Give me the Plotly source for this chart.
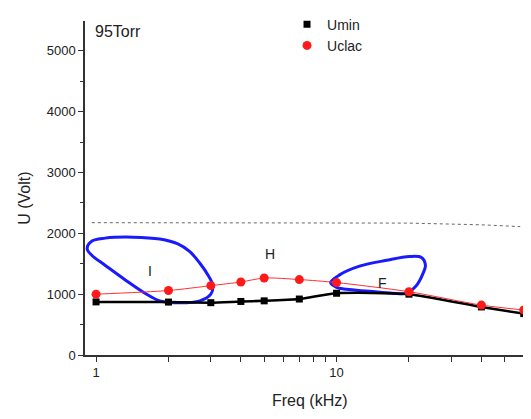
import math
import plotly.graph_objects as go

# Data
freq = [1, 2, 3, 4, 5, 7, 10, 20, 40, 60]
umin = [873, 870, 860, 880, 890, 920, 1015, 1000, 790, 680]
uclac = [1000, 1060, 1140, 1200, 1265, 1240, 1190, 1040, 820, 740]

# dotted reference line
ref_x = [0.96, 3, 10, 20, 40, 58]
ref_y = [2175, 2175, 2172, 2168, 2140, 2110]

# Blue loop "I"
loopI_x = [0.918, 0.962, 1.090, 1.424, 1.842, 2.189, 2.454, 2.702, 2.917, 3.059,
           3.000, 2.702, 2.230, 1.842, 1.597, 1.319, 1.090, 0.962, 0.918]
loopI_y = [1746, 1873, 1921, 1937, 1905, 1825, 1698, 1508, 1317, 1143,
           1000, 889, 857, 889, 1016, 1238, 1476, 1635, 1746]

# Blue loop "F"
loopF_x = [9.44, 10.29, 12.46, 16.12, 20.09, 22.53, 23.41, 22.74, 21.48, 19.52,
           17.08, 13.71, 11.00, 10.0, 9.44]
loopF_y = [1190, 1317, 1460, 1556, 1619, 1603, 1476, 1317, 1143, 1016,
           1016, 1048, 1079, 1111, 1190]

# region labels (freq, voltage)
labels = ["I", "H", "F"]
label_x = [1.67, 5.3, 15.5]
label_y = [1380, 1660, 1190]

x_tickvals = [1, 2, 3, 4, 5, 6, 7, 8, 9, 10, 20, 30, 40, 50, 60]
x_ticktext = ["1", "", "", "", "", "", "", "", "", "10", "", "", "", "", ""]
y_tickvals = [0, 1000, 2000, 3000, 4000, 5000]

FONT = "Arial, Liberation Sans, sans-serif"
TXT = "#222222"

fig = go.Figure()

fig.add_trace(go.Scatter(x=ref_x, y=ref_y, mode="lines",
                         line=dict(color="#666666", width=1, dash="dot"),
                         showlegend=False, hoverinfo="skip"))

fig.add_trace(go.Scatter(x=loopI_x, y=loopI_y, mode="lines",
                         line=dict(color="#1a1aff", width=3, shape="spline", smoothing=1.0),
                         showlegend=False))
fig.add_trace(go.Scatter(x=loopF_x, y=loopF_y, mode="lines",
                         line=dict(color="#1a1aff", width=3, shape="spline", smoothing=1.0),
                         showlegend=False))

fig.add_trace(go.Scatter(x=freq, y=umin, mode="lines+markers",
                         line=dict(color="black", width=2.5, shape="spline", smoothing=0.6),
                         marker=dict(symbol="square", size=7, color="black"),
                         cliponaxis=False, showlegend=False))
fig.add_trace(go.Scatter(x=freq, y=uclac, mode="lines+markers",
                         line=dict(color="#ff3030", width=1, shape="spline", smoothing=0.8),
                         marker=dict(symbol="circle", size=9, color="#ff1a1a"),
                         cliponaxis=False, showlegend=False))

# legend-only traces
fig.add_trace(go.Scatter(x=[None], y=[None], mode="markers", name="Umin",
                         marker=dict(symbol="square", size=7, color="black")))
fig.add_trace(go.Scatter(x=[None], y=[None], mode="markers", name="Uclac",
                         marker=dict(symbol="circle", size=9, color="#ff1a1a")))

fig.add_annotation(x=0.018, y=0.97, xref="paper", yref="paper", text="95Torr",
                   showarrow=False, xanchor="left", yanchor="middle",
                   font=dict(size=16, color=TXT, family=FONT))
for lbl, lx, ly in zip(labels, label_x, label_y):
    fig.add_annotation(x=math.log10(lx), y=ly, text=lbl, showarrow=False,
                       font=dict(size=14, color=TXT, family=FONT))

# axis titles
fig.add_annotation(x=-0.135, y=0.468, xref="paper", yref="paper", text="U (Volt)",
                   textangle=-90, showarrow=False, xanchor="center", yanchor="middle",
                   font=dict(size=16, color=TXT, family=FONT))
fig.add_annotation(x=0.507, y=-0.136, xref="paper", yref="paper", text="Freq (kHz)",
                   showarrow=False, xanchor="center", yanchor="middle",
                   font=dict(size=16, color=TXT, family=FONT))

# the page adds an 8 px body margin, so the figure is sized/margined to compensate
fig.update_layout(
    width=523, height=411,
    margin=dict(l=77, r=2, t=1, b=64),
    paper_bgcolor="white", plot_bgcolor="white",
    font=dict(family=FONT, color=TXT, size=13),
    legend=dict(x=0.455, y=1.037, xanchor="left", yanchor="top",
                bgcolor="rgba(0,0,0,0)", font=dict(size=14, family=FONT, color=TXT),
                itemwidth=30, tracegroupgap=0),
    xaxis=dict(type="log", range=[-0.046, 1.80], automargin=False,
               tickvals=x_tickvals, ticktext=x_ticktext,
               ticks="outside", ticklen=5, tickwidth=1.2, tickcolor="#333",
               showline=True, linecolor="#333", linewidth=1.5,
               showgrid=False, zeroline=False,
               tickfont=dict(size=13, family=FONT, color=TXT)),
    yaxis=dict(range=[0, 5490], tickvals=y_tickvals, automargin=False,
               ticks="outside", ticklen=5, tickwidth=1.2, tickcolor="#333",
               minor=dict(dtick=500, tick0=0, ticks="outside", ticklen=3, tickcolor="#333", showgrid=False),
               showline=True, linecolor="#333", linewidth=1.5,
               showgrid=False, zeroline=False,
               tickfont=dict(size=13, family=FONT, color=TXT)),
)

fig.write_html("out.html")
